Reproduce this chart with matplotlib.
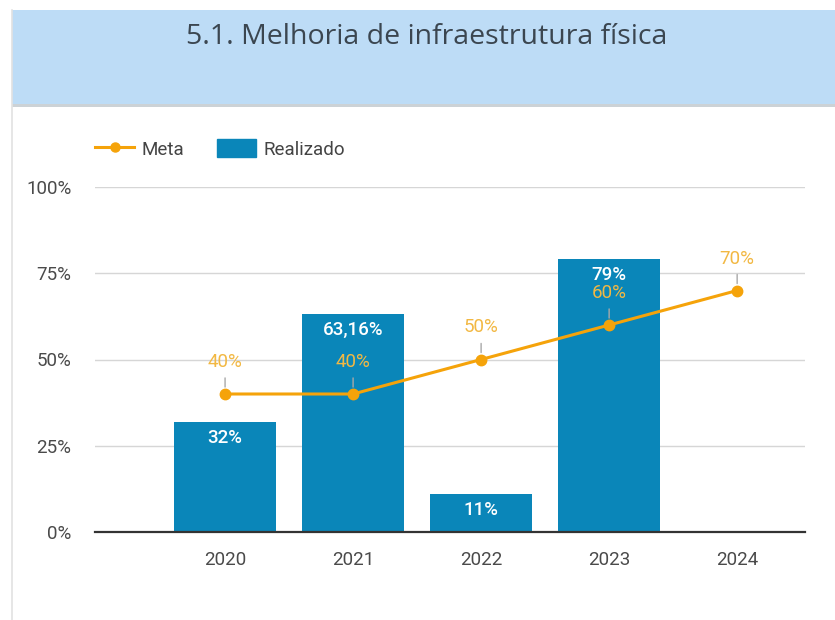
import matplotlib.pyplot as plt
from matplotlib.patches import Rectangle, Patch
from matplotlib.lines import Line2D

years = ['2020', '2021', '2022', '2023', '2024']
realizado = [32, 63.16, 11, 79]
realizado_labels = ['32%', '63,16%', '11%', '79%']
meta = [40, 40, 50, 60, 70]
meta_labels = ['40%', '40%', '50%', '60%', '70%']
yticks = [0, 25, 50, 75, 100]

bar_color = '#0a86b9'
line_color = '#f5a30a'
label_orange = '#f2b843'

plt.rcParams['font.family'] = ['Roboto', 'DejaVu Sans']

fig = plt.figure(figsize=(8.35, 6.2), dpi=100)
W, H = 835, 620

# card border and title banner
fig.add_artist(Line2D([12 / W, 12 / W], [0, 1 - 10 / H], color='#e2e2e2', lw=1.2))
fig.add_artist(Rectangle((12 / W, 1 - 107 / H), 1, 4 / H, color='#aab4bc', alpha=0.6, lw=0))
fig.add_artist(Rectangle((12 / W, 1 - 104 / H), 1, 94 / H, color='#bddcf6', lw=0))
fig.text(427 / W, 1 - 37 / H, '5.1. Melhoria de infraestrutura física', ha='center', va='center',
         fontsize=20.5, color='#3b4650', family=['Open Sans', 'DejaVu Sans'])

ax = fig.add_axes([95 / W, 1 - 532 / H, 710 / W, 345 / H])
x = list(range(len(years)))

ax.bar(x[:len(realizado)], realizado, width=0.8, color=bar_color, zorder=2)
for i, (v, lab) in enumerate(zip(realizado, realizado_labels)):
    ax.annotate(lab, xy=(i, v), xytext=(0, -16), textcoords='offset pixels', ha='center', va='center',
                color='white', fontsize=13.5, fontweight='medium', zorder=5)

ax.plot(x, meta, color=line_color, lw=2.2, marker='o', ms=7.5, zorder=3)
for i, (v, lab) in enumerate(zip(meta, meta_labels)):
    ax.annotate(lab, xy=(i, v), xytext=(0, 32), textcoords='offset pixels', ha='center', va='center',
                color=label_orange, fontsize=13.5, zorder=5,
                arrowprops=dict(arrowstyle='-', color='#a8a8a8', lw=1, shrinkA=3, shrinkB=5))

ax.set_xlim(-1.016, 4.53)
ax.set_ylim(0, 100)
ax.set_yticks(yticks)
ax.set_yticklabels([f'{t}%' for t in yticks])
ax.set_xticks(x)
ax.set_xticklabels(years)
ax.tick_params(length=0, labelsize=13.5, colors='#4a4a4a')
ax.tick_params(axis='x', pad=14)
ax.tick_params(axis='y', pad=17)
ax.grid(axis='y', color='#d6d6d6', lw=1, zorder=0)
ax.set_axisbelow(True)
for s in ['top', 'right', 'left']:
    ax.spines[s].set_visible(False)
ax.spines['bottom'].set_color('#333333')
ax.spines['bottom'].set_linewidth(1.6)
ax.spines['bottom'].set_zorder(4)

handles = [Line2D([], [], color=line_color, lw=2.2, marker='o', ms=6.5),
           Patch(color=bar_color)]
fig.legend(handles, ['Meta', 'Realizado'], loc='center left', bbox_to_anchor=(95 / W, 1 - 149 / H),
           ncol=2, frameon=False, fontsize=13.5, handlelength=2.1, handleheight=1.1,
           columnspacing=1.7, handletextpad=0.4, borderaxespad=0, borderpad=0,
           labelcolor='#444444')

fig.savefig('out.png', dpi=100, facecolor='white')
